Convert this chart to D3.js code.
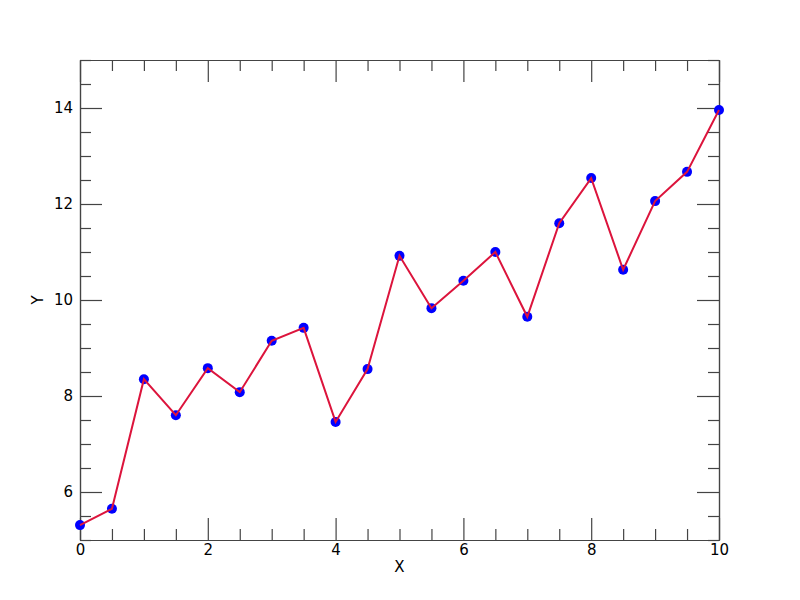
<!DOCTYPE html>
<html>
<head>
<meta charset="utf-8">
<script src="https://cdn.jsdelivr.net/npm/d3@7"></script>
<style>
  body { margin: 0; background: #fff; }
  svg text { font-family: "DejaVu Sans", sans-serif; }
</style>
</head>
<body>
<svg id="chart" width="800" height="600"></svg>
<script>
const xValues = [0, 0.5, 1, 1.5, 2, 2.5, 3, 3.5, 4, 4.5, 5, 5.5, 6, 6.5, 7, 7.5, 8, 8.5, 9, 9.5, 10];
const yValues = [5.31, 5.65, 8.35, 7.60, 8.58, 8.08, 9.15, 9.42, 7.46, 8.56, 10.92, 9.83, 10.40, 11.00, 9.65, 11.60, 12.54, 10.63, 12.06, 12.67, 13.96];
const xMajorTicks = [0, 2, 4, 6, 8, 10];
const yMajorTicks = [6, 8, 10, 12, 14];
const xLabel = "X";
const yLabel = "Y";

const margin = {left: 80, right: 81, top: 60, bottom: 60};
const W = 800, H = 600;
const svg = d3.select("#chart");
const x = d3.scaleLinear().domain([0, 10]).range([margin.left, W - margin.right]);
const y = d3.scaleLinear().domain([5, 15]).range([H - margin.bottom, margin.top]);

const xMinor = d3.range(0, 10.001, 0.5).filter(v => !xMajorTicks.includes(v));
const yMinor = d3.range(5, 15.001, 0.5).filter(v => !yMajorTicks.includes(v));
const axisColor = "#444";
const MAJ = 22, MIN = 11;
const FS = 15;

function styleAxis(g) {
  g.attr("font-size", FS).attr("font-family", "DejaVu Sans, sans-serif");
  g.select(".domain").attr("stroke", axisColor).attr("stroke-width", 1.2);
  g.selectAll(".tick line").attr("stroke", axisColor).attr("stroke-width", 1.2);
  g.selectAll(".tick text").attr("fill", "#000");
}

// bottom
svg.append("g").attr("transform", `translate(0,${H - margin.bottom})`)
  .call(d3.axisBottom(x).tickValues(xMajorTicks).tickSize(-MAJ).tickPadding(4).tickSizeOuter(0)).call(styleAxis);
svg.append("g").attr("transform", `translate(0,${H - margin.bottom})`)
  .call(d3.axisBottom(x).tickValues(xMinor).tickSize(-MIN).tickFormat("").tickSizeOuter(0)).call(styleAxis);
// top
svg.append("g").attr("transform", `translate(0,${margin.top})`)
  .call(d3.axisTop(x).tickValues(xMajorTicks).tickSize(-MAJ).tickFormat("").tickSizeOuter(0)).call(styleAxis);
svg.append("g").attr("transform", `translate(0,${margin.top})`)
  .call(d3.axisTop(x).tickValues(xMinor).tickSize(-MIN).tickFormat("").tickSizeOuter(0)).call(styleAxis);
// left
svg.append("g").attr("transform", `translate(${margin.left},0)`)
  .call(d3.axisLeft(y).tickValues(yMajorTicks).tickSize(-MAJ).tickPadding(7).tickSizeOuter(0)).call(styleAxis);
svg.append("g").attr("transform", `translate(${margin.left},0)`)
  .call(d3.axisLeft(y).tickValues(yMinor).tickSize(-MIN).tickFormat("").tickSizeOuter(0)).call(styleAxis);
// right
svg.append("g").attr("transform", `translate(${W - margin.right},0)`)
  .call(d3.axisRight(y).tickValues(yMajorTicks).tickSize(-MAJ).tickFormat("").tickSizeOuter(0)).call(styleAxis);
svg.append("g").attr("transform", `translate(${W - margin.right},0)`)
  .call(d3.axisRight(y).tickValues(yMinor).tickSize(-MIN).tickFormat("").tickSizeOuter(0)).call(styleAxis);

// axis labels
svg.append("text").attr("x", (x(0) + x(10)) / 2).attr("y", 572)
  .attr("text-anchor", "middle").attr("font-size", FS).text(xLabel);
svg.append("text").attr("transform", `translate(43,${(y(5) + y(15)) / 2}) rotate(-90)`)
  .attr("text-anchor", "middle").attr("font-size", FS).text(yLabel);

const data = xValues.map((v, i) => ({x: v, y: yValues[i]}));
svg.append("g").selectAll("circle").data(data).join("circle")
  .attr("cx", d => x(d.x)).attr("cy", d => y(d.y)).attr("r", 5).attr("fill", "#0000ff");
svg.append("path").datum(data)
  .attr("d", d3.line().x(d => x(d.x)).y(d => y(d.y)))
  .attr("fill", "none").attr("stroke", "#dc143c").attr("stroke-width", 2);
</script>
</body>
</html>
